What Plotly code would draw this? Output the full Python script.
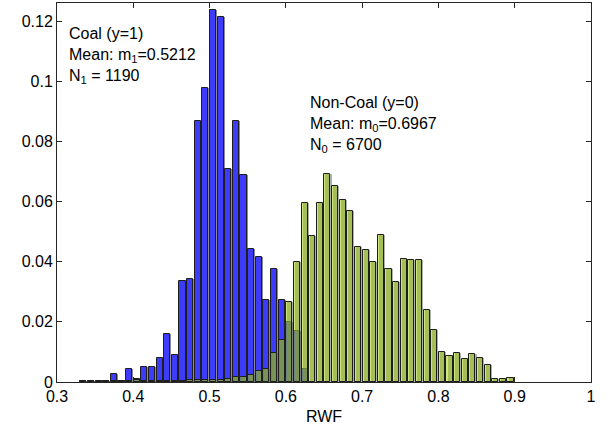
import plotly.graph_objects as go

# Histogram bins (left edge of each 0.01-wide bin)
bins = [round(0.33 + 0.01 * i, 2) for i in range(57)]  # 0.33 ... 0.89

# Coal (y=1) relative frequencies
coal = [0.0002, 0.0002, 0.0002, 0.0002, 0.0026, 0.0002, 0.0042, 0.0009, 0.0050, 0.0050,
        0.0081, 0.0159, 0.0091, 0.0336, 0.0342, 0.0868, 0.0979, 0.1237, 0.1212, 0.0709,
        0.0868, 0.0687, 0.0442, 0.0417, 0.0273, 0.0376, 0.0273, 0.0201, 0.0168, 0.0042,
        0, 0, 0, 0, 0, 0, 0, 0, 0, 0,
        0, 0, 0, 0, 0, 0, 0, 0, 0, 0,
        0, 0, 0, 0, 0, 0, 0]

# Non-Coal (y=0) relative frequencies
noncoal = [0.0002, 0.0002, 0.0002, 0.0002, 0.0005, 0.0002, 0.0003, 0.0006, 0.0003, 0.0003,
           0.0003, 0.0004, 0.0003, 0.0004, 0.0006, 0.0007, 0.0007, 0.0007, 0.0007, 0.0010,
           0.0016, 0.0017, 0.0023, 0.0037, 0.0042, 0.0098, 0.0140, 0.0267, 0.0400, 0.0596,
           0.0484, 0.0596, 0.0690, 0.0653, 0.0606, 0.0567, 0.0448, 0.0440, 0.0398, 0.0489,
           0.0376, 0.0334, 0.0408, 0.0406, 0.0406, 0.0239, 0.0172, 0.0101, 0.0087, 0.0098,
           0.0076, 0.0094, 0.0079, 0.0056, 0.0009, 0.0009, 0.0014]

x_ticks = [0.3, 0.4, 0.5, 0.6, 0.7, 0.8, 0.9, 1.0]
x_ticktext = ["0.3", "0.4", "0.5", "0.6", "0.7", "0.8", "0.9", "1"]
y_ticks = [0, 0.02, 0.04, 0.06, 0.08, 0.1, 0.12]
y_ticktext = ["0", "0.02", "0.04", "0.06", "0.08", "0.1", "0.12"]

FONT = "Liberation Sans, Arial, sans-serif"
AX = "#262626"
BW = 0.008
OFF = 0.0005
SH = 0.0014

fig = go.Figure()
# blue shadow + bars
fig.add_trace(go.Bar(x=bins, y=coal, width=BW, offset=OFF + SH,
                     marker=dict(color="rgba(120,120,120,0.85)", line=dict(width=0)),
                     showlegend=False, hoverinfo="skip"))
fig.add_trace(go.Bar(x=bins, y=coal, width=BW, offset=OFF, name="Coal",
                     marker=dict(color="rgb(60,60,250)", line=dict(color="rgb(30,30,30)", width=1)),
                     showlegend=False))
# green shadow + bars
fig.add_trace(go.Bar(x=bins, y=noncoal, width=BW, offset=OFF + SH,
                     marker=dict(color="rgba(110,110,110,0.55)", line=dict(width=0)),
                     showlegend=False, hoverinfo="skip"))
fig.add_trace(go.Bar(x=bins, y=noncoal, width=BW, offset=OFF, name="Non-Coal",
                     marker=dict(color="rgba(155,205,0,0.5)", line=dict(color="rgb(30,30,30)", width=1)),
                     showlegend=False))

fig.add_annotation(x=0.3135, y=0.1195, xref="x", yref="y", xanchor="left", yanchor="top",
                   align="left", showarrow=False,
                   text="Coal (y=1)<br>Mean: m<sub>1</sub>=0.5212<br>N<sub>1</sub> = 1190",
                   font=dict(family=FONT, size=16, color="black"))
fig.add_annotation(x=0.6285, y=0.0965, xref="x", yref="y", xanchor="left", yanchor="top",
                   align="left", showarrow=False,
                   text="Non-Coal (y=0)<br>Mean: m<sub>0</sub>=0.6967<br>N<sub>0</sub> = 6700",
                   font=dict(family=FONT, size=16, color="black"))

axis_common = dict(showline=True, linecolor=AX, linewidth=1, mirror="ticks",
                   ticks="inside", ticklen=5, tickcolor=AX, showgrid=False, zeroline=False,
                   tickfont=dict(family=FONT, size=16, color="black"))
fig.update_xaxes(range=[0.3, 1.0], tickvals=x_ticks, ticktext=x_ticktext,
                 title=dict(text="RWF", font=dict(family=FONT, size=16, color="black"), standoff=6),
                 **axis_common)
fig.update_yaxes(range=[0, 0.126], tickvals=y_ticks, ticktext=y_ticktext, **axis_common)

fig.update_layout(width=610, height=432, barmode="overlay", bargap=0,
                  plot_bgcolor="white", paper_bgcolor="white",
                  margin=dict(l=57, r=19, t=3, b=50),
                  font=dict(family=FONT, size=16, color="black"))

fig.write_html("out.html")
